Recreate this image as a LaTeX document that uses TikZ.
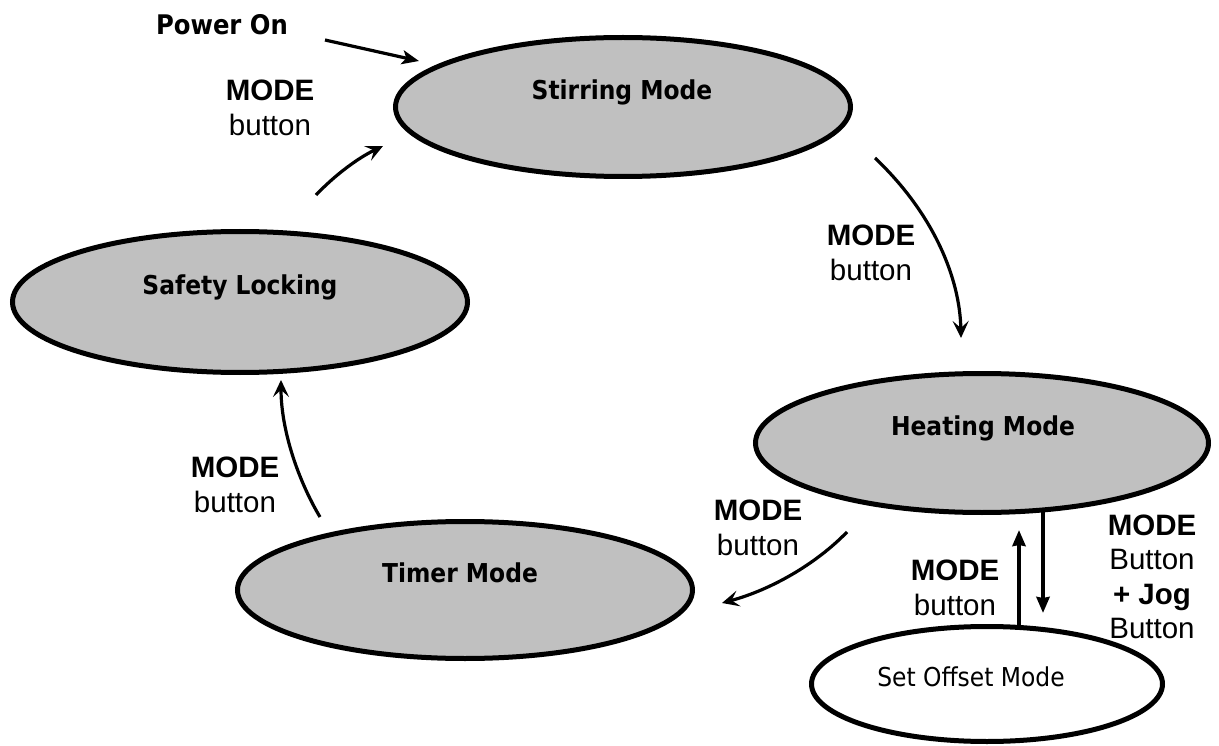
\documentclass[tikz,border=0pt]{standalone}
\usepackage{fontspec}
\setmainfont{Liberation Sans}
\newfontfamily\tah{DejaVu Sans Condensed}
\usetikzlibrary{shapes.geometric,arrows.meta,calc}
\definecolor{stategray}{RGB}{192,192,192}
\tikzset{
  state/.style={draw=black, line width=5pt, fill=stategray, ellipse, inner sep=0pt},
  offstate/.style={draw=black, line width=5pt, fill=white, ellipse, inner sep=0pt},
  statetext/.style={font=\tah\bfseries\fontsize{26}{30}\selectfont, inner sep=0pt},
  offtext/.style={font=\tah\fontsize{26}{30}\selectfont, inner sep=0pt},
  lbl/.style={font=\fontsize{29.5}{34.5}\selectfont, align=center, inner sep=0pt},
  arr/.style={line width=3.2pt, -{Stealth[length=17pt,width=16pt,inset=7pt]}},
  parr/.style={line width=3.2pt, -{Stealth[length=17pt,width=14pt,inset=4pt]}},
  varr/.style={line width=3.6pt, -{Stealth[length=16pt,width=13pt,inset=1pt]}},
}
\begin{document}
\begin{tikzpicture}[x=1pt,y=-1pt]
\fill[white] (0,0) rectangle (1219,746);
\useasboundingbox (0,0) rectangle (1219,746);

% states
\node[state, minimum width=455pt, minimum height=139pt] (st) at (623,107) {};
\node[state, minimum width=455pt, minimum height=141pt] (sa) at (240,302) {};
\node[state, minimum width=453pt, minimum height=139pt] (he) at (982,443) {};
\node[state, minimum width=455pt, minimum height=137pt] (ti) at (465,590) {};
\node[offstate, minimum width=351pt, minimum height=115pt] (so) at (987,684) {};

\node[statetext] (stT) at (622,92) {Stirring Mode};
\node[statetext] (saT) at (240,287) {Safety Locking};
\node[statetext] (heT) at (983,428) {Heating Mode};
\node[statetext] (tiT) at (460,573) {Timer Mode};
\node[offtext] (soT) at (971,677) {Set Offset Mode};

% power on
\node[statetext, font=\tah\bfseries\fontsize{27}{31}\selectfont] (po) at (222,25) {Power On};
\draw[parr] ($(po.center)+(103,15)$) -- ($(st.center)+(-204,-46)$);

% stirring -> heating
\draw[arr] ($(st.center)+(252,51)$) .. controls ($(st.center)+(312,108)$) and ($(he.center)+(-22,-163)$) .. ($(he.center)+(-21,-105)$);
\node[lbl] (l1) at (871,253) {\textbf{MODE}\\button};

% heating -> timer
\draw[arr] ($(he.center)+(-135,89)$) .. controls ($(he.center)+(-167,122)$) and ($(ti.center)+(305,0)$) .. ($(ti.center)+(257,13)$);
\node[lbl] (l2) at (758,528) {\textbf{MODE}\\button};

% timer -> safety
\draw[arr] ($(ti.center)+(-145,-73)$) .. controls ($(ti.center)+(-167,-110)$) and ($(sa.center)+(41,128)$) .. ($(sa.center)+(41,78)$);
\node[lbl] (l3) at (235,485) {\textbf{MODE}\\button};

% safety -> stirring
\draw[arr] ($(sa.center)+(76,-107)$) .. controls ($(sa.center)+(95,-127)$) and ($(st.center)+(-265,51)$) .. ($(st.center)+(-240,39)$);
\node[lbl] (l4) at (270,108) {\textbf{MODE}\\button};

% heating <-> set offset
\draw[varr] ($(so.center)+(32,-59)$) -- ($(he.center)+(37,87)$);
\draw[varr] ($(he.center)+(61,69)$) -- ($(so.center)+(56,-71)$);
\node[lbl] (l5) at (955,588) {\textbf{MODE}\\button};
\node[lbl] (l6) at (1152,577) {\textbf{MODE}\\Button\\\textbf{+ Jog}\\Button};
\end{tikzpicture}
\end{document}
